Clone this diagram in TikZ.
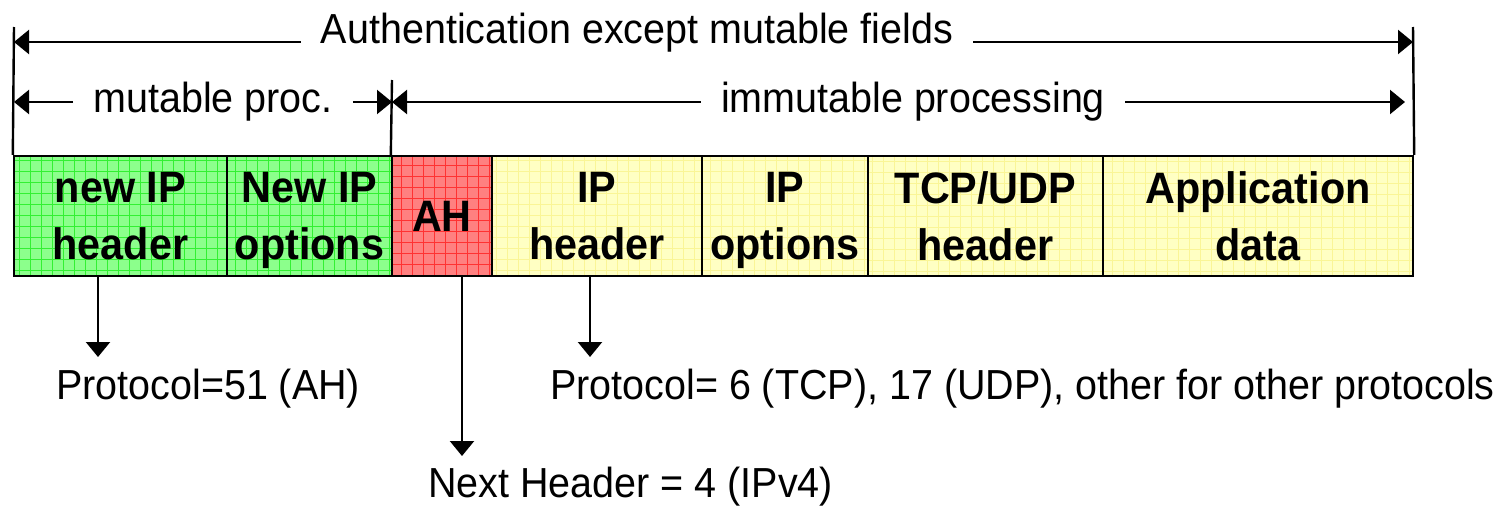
\documentclass[tikz,border=0pt]{standalone}
\usepackage{fontspec}
\setmainfont[FakeStretch=0.94]{Liberation Sans}
\usetikzlibrary{arrows.meta}
\definecolor{gfill}{RGB}{140,255,140}
\definecolor{ggrid}{RGB}{50,240,50}
\definecolor{rfill}{RGB}{255,128,128}
\definecolor{rgrid}{RGB}{255,50,50}
\definecolor{yfill}{RGB}{255,255,195}
\definecolor{ygrid}{RGB}{250,245,150}
\tikzset{
  field/.style={draw=black, line width=2.4pt, minimum height=120pt, inner sep=0pt,
    text depth=0pt, align=center, font=\fontsize{44}{57}\selectfont\bfseries},
  gridded/.style n args={2}{fill=#1, path picture={
    \draw[#2, line width=0.55pt, step=11pt] (path picture bounding box.south west) grid (path picture bounding box.north east);}},
  arr/.style={line width=2.2pt, -{Triangle[length=15pt,width=24pt]}},
  bar/.style={line width=2.4pt},
  lbl/.style={inner sep=0pt, font=\fontsize{42}{50}\selectfont},
  toplbl/.style={inner ysep=0pt, inner xsep=20pt, anchor=base, font=\fontsize{42}{50}\selectfont},
}
\begin{document}
\begin{tikzpicture}[x=1pt,y=-1pt]
\useasboundingbox (0,0) rectangle (1499,506);
% boxes
\node[field, gridded={gfill}{ggrid}, minimum width=213pt] (b1) at (120.5,216) {new IP\\header};
\node[field, gridded={gfill}{ggrid}, minimum width=165pt] (b2) at (309.5,216) {New IP\\options};
\node[field, gridded={rfill}{rgrid}, minimum width=100pt] (b3) at (442,216) {AH};
\node[field, gridded={yfill}{ygrid}, minimum width=210pt] (b4) at (597,216) {IP\\header};
\node[field, gridded={yfill}{ygrid}, minimum width=166pt] (b5) at (785,216) {IP\\options};
\node[field, gridded={yfill}{ygrid}, minimum width=235pt] (b6) at (985.5,216) {TCP/UDP\\header};
\node[field, gridded={yfill}{ygrid}, minimum width=310pt] (b7) at (1258,216) {Application\\data};
% vertical bars
\coordinate (T1) at (14,27);
\coordinate (T2) at (392,80);
\coordinate (T3) at (1413,27);
\draw[bar] (b1.north west) -- (T1);
\draw[bar] (b3.north west) -- (T2);
\draw[bar] (b7.north east) -- (T3);
% top labels
\node[toplbl] (auth) at (637,43) {Authentication except mutable fields};
\node[toplbl] (mut) at (213,112) {mutable proc.};
\node[toplbl] (imm) at (913,112) {immutable processing};
\coordinate (A1) at (14,42);
\coordinate (A2) at (1413,42);
\coordinate (M1) at (14,102);
\coordinate (M2) at (392,102);
\coordinate (I2) at (1405,102);
\draw[arr] (auth.west |- A1) -- (A1);
\draw[arr] (auth.east |- A2) -- (A2);
\draw[arr] (mut.west |- M1) -- (M1);
\draw[arr] (mut.east |- M2) -- (M2);
\draw[arr] (imm.west |- M2) -- (M2);
\draw[arr] (imm.east |- I2) -- (I2);
% bottom labels
\node[lbl, anchor=base west] (p1) at (56,399) {Protocol=51 (AH)};
\node[lbl, anchor=base west] (p2) at (550,399) {Protocol= 6 (TCP), 17 (UDP), other for other protocols};
\node[lbl, anchor=base west] (nh) at (428,497) {Next Header = 4 (IPv4)};
\coordinate (D1) at (98,357);
\coordinate (D2) at (462,456);
\coordinate (D3) at (590,357);
\draw[arr] (b1.south -| D1) -- (D1);
\draw[arr] (b3.south -| D2) -- (D2);
\draw[arr] (b4.south -| D3) -- (D3);
\end{tikzpicture}
\end{document}
